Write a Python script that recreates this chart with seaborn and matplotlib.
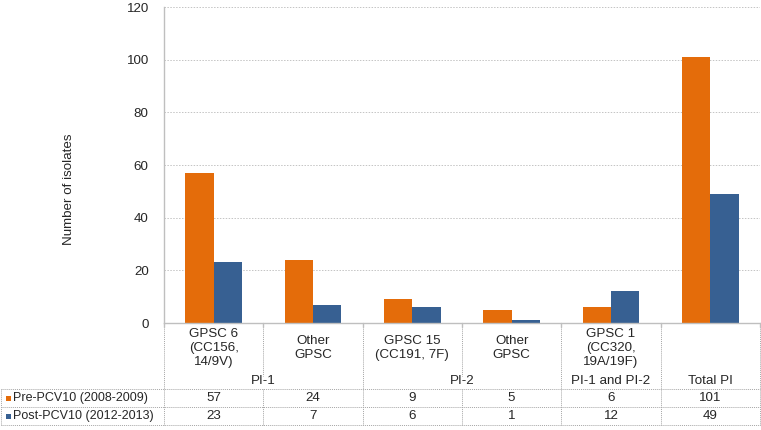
import matplotlib
matplotlib.use("Agg")
import matplotlib.pyplot as plt
import seaborn as sns
import pandas as pd
from matplotlib.transforms import blended_transform_factory
from matplotlib.lines import Line2D
from matplotlib.patches import Rectangle

categories = ["GPSC 6\n(CC156,\n14/9V)", "Other\nGPSC", "GPSC 15\n(CC191, 7F)",
              "Other\nGPSC", "GPSC 1\n(CC320,\n19A/19F)", ""]
series_names = ["Pre-PCV10 (2008-2009)", "Post-PCV10 (2012-2013)"]
pre_values = [57, 24, 9, 5, 6, 101]
post_values = [23, 7, 6, 1, 12, 49]
groups = [("PI-1", 0, 1), ("PI-2", 2, 3), ("PI-1 and PI-2", 4, 4), ("Total PI", 5, 5)]
yticks = [0, 20, 40, 60, 80, 100, 120]
colors = ["#E46C0A", "#376092"]

sns.set_theme(style="white")
plt.rcParams["font.family"] = ["Liberation Sans", "DejaVu Sans"]
FS = 9.6

W, H = 761, 430
fig = plt.figure(figsize=(W / 100, H / 100), dpi=100)
ax_left, ax_right, ax_top, ax_bot = 164, 760, 7, 323
ax = fig.add_axes([ax_left / W, 1 - ax_bot / H, (ax_right - ax_left) / W, (ax_bot - ax_top) / H])

keys = [f"c{i}" for i in range(len(categories))]
df = pd.DataFrame({
    "cat": keys * 2,
    "series": [series_names[0]] * len(keys) + [series_names[1]] * len(keys),
    "value": pre_values + post_values,
})
sns.barplot(data=df, x="cat", y="value", hue="series", order=keys, hue_order=series_names,
            palette=colors, width=0.57, legend=False, ax=ax, saturation=1, linewidth=0)

ax.set_xlim(-0.5, len(keys) - 0.5)
ax.set_ylim(0, 120)
ax.set_yticks(yticks)
ax.set_yticklabels([str(t) for t in yticks], fontsize=FS)
ax.tick_params(axis="y", length=0, pad=11)
ax.set_xticks([])
ax.set_xlabel("")
ax.set_ylabel("")
for t in yticks[1:]:
    ax.axhline(t, color="#c4c4c4", lw=0.7, ls=(0, (1.5, 1.5)), zorder=0)
for s in ["top", "right"]:
    ax.spines[s].set_visible(False)
for s in ["left", "bottom"]:
    ax.spines[s].set_color("#bfbfbf")
    ax.spines[s].set_linewidth(1.0)

tr = blended_transform_factory(ax.transData, ax.transAxes)
span = ax_bot - ax_top

def fy(ypix):
    return (ax_bot - ypix) / span

def xd(px):
    return -0.5 + (px - ax_left) / ((ax_right - ax_left) / len(keys))

ax.text(xd(69), fy(189), "Number of isolates", rotation=90, ha="center", va="center",
        fontsize=FS, transform=tr, clip_on=False)

grid_kw = dict(color="#a6a6a6", lw=0.7, ls=(0, (1, 1)), clip_on=False, transform=tr)

# Category labels
for i, lab in enumerate(categories):
    if lab:
        ax.text(i, fy(348), lab, ha="center", va="center", fontsize=FS, transform=tr,
                linespacing=1.18, clip_on=False)
# Group labels
for name, a, b in groups:
    ax.text((a + b) / 2, fy(381), name, ha="center", va="center", fontsize=FS,
            transform=tr, clip_on=False)

# Vertical lines
row1, row2, row3 = 389, 407, 425
bounds_full = [-0.5, 1.5, 3.5, 4.5, 5.5]
for bx in bounds_full:
    ax.add_line(Line2D([bx, bx], [fy(323), fy(row3)], **grid_kw))
for bx in [0.5, 2.5]:
    ax.add_line(Line2D([bx, bx], [fy(323), fy(376)], **grid_kw))
    ax.add_line(Line2D([bx, bx], [fy(row1), fy(row3)], **grid_kw))
# small tick marks below axis at boundaries
for bx in [-0.5, 0.5, 1.5, 2.5, 3.5, 4.5, 5.5]:
    ax.add_line(Line2D([bx, bx], [fy(323), fy(327)], color="#bfbfbf", lw=1.0,
                       clip_on=False, transform=tr))
# Left border of legend column
ax.add_line(Line2D([xd(1), xd(1)], [fy(row1), fy(row3)], **grid_kw))
# Horizontal lines
for yy in [row1, row2, row3]:
    ax.add_line(Line2D([xd(1), 5.5], [fy(yy), fy(yy)], **grid_kw))

# Table rows
rows = [pre_values, post_values]
for r, (vals, name, col) in enumerate(zip(rows, series_names, colors)):
    yc = (row1 + row2) / 2 if r == 0 else (row2 + row3) / 2
    for i, v in enumerate(vals):
        ax.text(i, fy(yc), str(v), ha="center", va="center", fontsize=FS,
                transform=tr, clip_on=False)
    ax.add_patch(Rectangle((xd(6), fy(yc + 2.5)), xd(11) - xd(6), fy(yc - 2.5) - fy(yc + 2.5),
                           facecolor=col, edgecolor="none", transform=tr, clip_on=False))
    ax.text(xd(13), fy(yc), name, ha="left", va="center", fontsize=9.0,
            transform=tr, clip_on=False)

fig.savefig("out.png", dpi=100)
